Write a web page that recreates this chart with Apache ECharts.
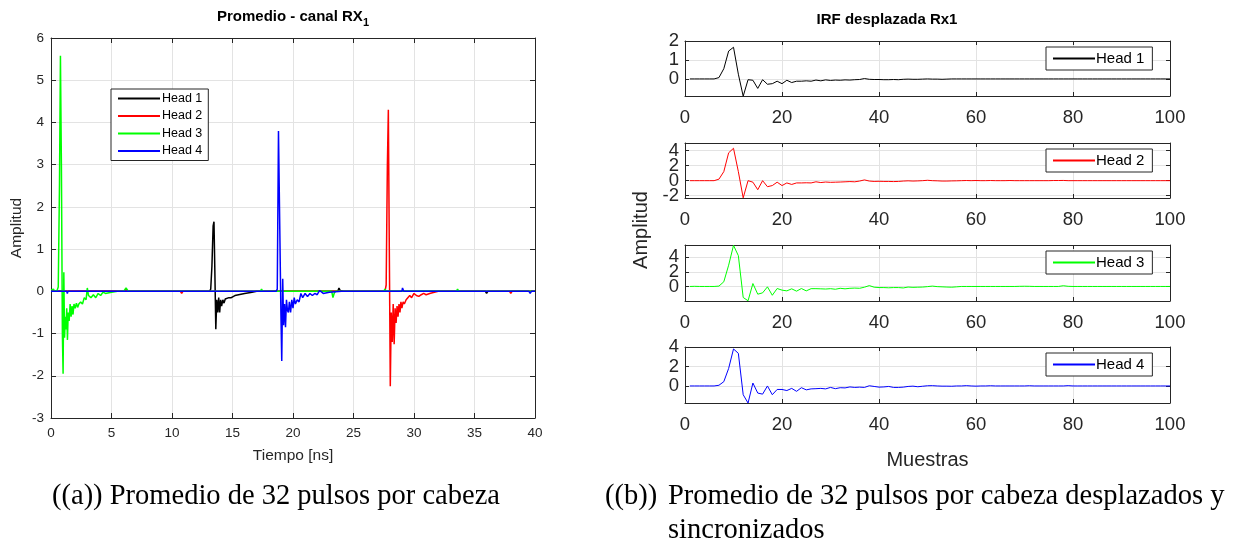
<!DOCTYPE html>
<html>
<head>
<meta charset="utf-8">
<script src="https://cdn.jsdelivr.net/npm/echarts@6/dist/echarts.min.js"></script>
<style>
html, body { margin: 0; padding: 0; background: #fff; }
#main { width: 1243px; height: 545px; }
</style>
</head>
<body>
<div id="main"></div>
<script>
const chart = echarts.init(document.querySelector('#main'))

const HEADS = ['Head 1', 'Head 2', 'Head 3', 'Head 4']
const COLORS = ['#000000', '#ff0000', '#00ff00', '#0000ff']

// (a) promedio por cabeza: [tiempo ns, amplitud]
const PULSE_HEAD1 = [[0,0],[13.1,0],[13.2,0.05],[13.3,0.6],[13.4,1.55],[13.47,1.65],[13.54,0.5],[13.62,-0.9],[13.7,-0.2],[13.78,-0.5],[13.86,-0.15],[13.94,-0.5],[14.02,-0.2],[14.1,-0.35],[14.2,-0.2],[14.3,-0.28],[14.4,-0.18],[14.5,-0.22],[14.7,-0.15],[14.9,-0.15],[15.2,-0.1],[15.5,-0.08],[16,-0.05],[16.5,-0.03],[17,0],[23.7,0],[23.8,0.08],[23.9,0.02],[24,0.05],[24.2,0],[35.9,0],[36,-0.05],[36.1,0],[40,0]]
const PULSE_HEAD2 = [[0,0],[6.1,0],[6.2,0.05],[6.3,0],[8.2,0],[8.3,-0.03],[8.4,0],[10.7,0],[10.8,-0.05],[10.9,0],[27.6,0],[27.7,0.15],[27.8,3.0],[27.88,4.3],[27.96,1.0],[28.04,-2.25],[28.12,-0.5],[28.2,-1.2],[28.28,-0.3],[28.36,-1.25],[28.44,-0.4],[28.52,-0.75],[28.6,-0.35],[28.68,-0.6],[28.76,-0.3],[28.84,-0.5],[28.92,-0.25],[29,-0.4],[29.1,-0.25],[29.2,-0.3],[29.35,-0.2],[29.5,-0.22],[29.65,-0.1],[29.8,-0.15],[30,-0.05],[30.2,-0.1],[30.4,-0.12],[30.6,-0.08],[30.8,-0.05],[31,-0.08],[31.3,-0.05],[31.6,-0.03],[32,0],[37.9,0],[38,-0.05],[38.1,0],[40,0]]
const PULSE_HEAD3 = [[0,0.03],[0.1,0],[0.2,0.05],[0.3,0],[0.5,0.02],[0.6,0.1],[0.7,2.5],[0.78,5.58],[0.86,3.0],[0.94,-1.0],[1.0,-1.95],[1.06,0.45],[1.12,-1.1],[1.18,-0.6],[1.24,-0.9],[1.3,-0.4],[1.36,-1.15],[1.42,-0.5],[1.5,-0.7],[1.58,-0.3],[1.66,-0.6],[1.74,-0.35],[1.82,-0.55],[1.9,-0.3],[2,-0.4],[2.1,-0.28],[2.2,-0.38],[2.3,-0.3],[2.45,-0.25],[2.6,-0.3],[2.75,-0.15],[2.9,-0.2],[3,0.08],[3.1,-0.1],[3.3,-0.15],[3.5,-0.08],[3.7,-0.15],[3.9,-0.05],[4.1,-0.1],[4.3,-0.02],[4.5,-0.05],[5,-0.02],[5.5,0],[6,0],[6.2,0.08],[6.4,0],[8,0],[13,0],[17.3,0],[17.4,0.05],[17.5,0],[20,0],[23.2,0],[23.3,-0.15],[23.4,-0.05],[23.5,0],[27.5,0],[27.6,0.05],[27.7,0],[33.5,0],[33.6,0.05],[33.7,0],[40,0]]
const PULSE_HEAD4 = [[0,0],[1.3,0],[1.35,-0.05],[1.4,0],[18.6,0],[18.7,0.05],[18.8,3.8],[18.9,3.8],[19,-0.5],[19.07,-1.65],[19.15,0.3],[19.22,-0.8],[19.3,-0.3],[19.38,-0.85],[19.46,-0.2],[19.54,-0.45],[19.62,-0.5],[19.7,-0.25],[19.8,-0.5],[19.9,-0.2],[20,-0.4],[20.1,-0.15],[20.2,-0.3],[20.35,-0.2],[20.5,-0.25],[20.65,-0.05],[20.8,-0.15],[21,-0.05],[21.2,-0.12],[21.4,-0.05],[21.6,-0.1],[21.8,-0.05],[22,-0.08],[22.2,0.02],[22.5,-0.05],[23,-0.02],[24,0],[29,0],[29.05,0.08],[29.15,0],[39.5,0],[39.6,-0.05],[39.7,0],[40,0]]

// (b) IRF desplazada, muestras 1..100
const IRF_HEAD1 = [0,0,0,0,0,0,0.07,0.54,1.47,1.67,0.25,-0.91,-0.04,-0.07,-0.5,-0.04,-0.28,-0.25,-0.12,-0.25,-0.07,-0.19,-0.12,-0.12,-0.1,-0.12,-0.06,-0.1,-0.05,-0.08,-0.06,-0.07,-0.05,-0.06,-0.04,-0.03,0.02,-0.02,-0.03,-0.03,-0.04,-0.04,-0.03,-0.04,-0.02,-0.01,-0.02,-0.02,-0.01,0,-0.01,-0.01,-0.02,-0.01,0,0,0,0,0,0,0,0,0,0,0,0,0,0,0,0,0,0,0,0,0,0,0,0,0,0,0,0,0,0,0,0,0,0,0,0,0,0,0,0,0,0,0,0,0,0]
const IRF_HEAD2 = [0,0,0,0,0,0,0.2,1.2,3.7,4.3,1.2,-2.28,0,-0.2,-1.2,0,-0.8,-0.65,-0.2,-0.65,-0.3,-0.5,-0.3,-0.3,-0.28,-0.3,-0.15,-0.25,-0.18,-0.22,-0.2,-0.18,-0.15,-0.12,-0.15,-0.05,0.1,-0.05,-0.1,-0.08,-0.1,-0.1,-0.12,-0.1,-0.05,-0.02,-0.05,-0.03,0,0.05,0,-0.02,-0.05,-0.05,-0.03,-0.02,0,0.02,0,0.02,0,0,0.02,0,0,0,0.02,0,0,0,0,0,0,0,0,0.02,0.02,0.03,0,0,0,0,0,0,0,0,0,0,0,0,0,0,0,0,0,0,0,0,0,0]
const IRF_HEAD3 = [0,0.02,0,0,0,0,0.05,0.64,2.9,5.6,4.2,-1.5,-1.95,0.4,-1.05,-0.87,-0.05,-1.2,-0.28,-0.5,-0.6,-0.32,-0.64,-0.28,-0.6,-0.3,-0.3,-0.32,-0.35,-0.3,-0.38,-0.25,-0.32,-0.25,-0.22,-0.25,-0.1,0.12,-0.1,-0.15,-0.15,-0.18,-0.15,-0.15,-0.2,-0.08,-0.12,-0.1,-0.08,-0.02,0.05,-0.02,-0.05,-0.08,-0.1,-0.05,0,0,0,0,0,0,0,0,0,0,0,0,0.02,0.03,0.02,0,0,0,0,0,0,0.1,0.02,0,0,0,0,0,0,0,0,0,0,0,0,0,0,0,0,0,0,0,0,0]
const IRF_HEAD4 = [0,0,0,0,0,0,0.07,0.44,1.8,3.8,3.35,-0.9,-1.75,0.3,-0.73,-0.84,0,-0.9,-0.36,-0.36,-0.47,-0.25,-0.55,-0.18,-0.4,-0.3,-0.28,-0.25,-0.3,-0.15,-0.28,-0.18,-0.2,-0.1,-0.15,-0.12,-0.15,0.02,-0.05,-0.12,-0.1,-0.05,-0.15,-0.15,-0.12,-0.05,-0.02,-0.08,-0.03,0.02,0.03,0,-0.02,-0.02,-0.03,0,0,0.03,0,-0.02,0,0,0.02,0,0,0,0,0,0,0,0.02,0,0,0,0,0,0,0,0.03,0,0,0,0,0,0,0,0,0,0,0,0,0,0,0,0,0,0,0,0,0]

const PULSES = [PULSE_HEAD1, PULSE_HEAD2, PULSE_HEAD3, PULSE_HEAD4]
const IRFS = [IRF_HEAD1, IRF_HEAD2, IRF_HEAD3, IRF_HEAD4]

const TIME_RANGE = [0, 40]
const AMP_RANGE = [-3, 6]
const SAMPLE_RANGE = [0, 100]
const IRF_YLIMS = [[-0.9, 2], [-2.3, 5], [-1.98, 5.65], [-1.75, 4]]
const IRF_YTICKS = [[0, 1, 2], [-2, 0, 2, 4], [0, 2, 4], [0, 2, 4]]

const FONT = 'Liberation Sans'
const INK = '#262626'
const GRID_GRAY = '#e3e3e3'

const RIGHT_TOPS = [41, 143, 245, 347]
const RIGHT_HEIGHTS = [55, 55, 56, 56]

function axisBase (gridIndex, extra) {
  return Object.assign({
    gridIndex,
    type: 'value',
    axisLine: { show: true, onZero: false, lineStyle: { color: INK, width: 1 } },
    axisTick: { show: true, inside: true, length: 5, lineStyle: { color: INK } },
    splitLine: { show: true, lineStyle: { color: GRID_GRAY, width: 1 } },
    axisLabel: { color: INK, fontFamily: FONT }
  }, extra)
}

function mirror (axis, position) {
  return Object.assign({}, axis, {
    position,
    name: '',
    axisLabel: { show: false },
    splitLine: { show: false },
    axisTick: Object.assign({}, axis.axisTick)
  })
}

// tick labels of the small panels are too close together for one axis:
// split them over two overlaid axes so none gets hidden
function labelAxis (gridIndex, lim, values) {
  return {
    gridIndex, type: 'value', position: 'left', offset: 0,
    min: lim[0], max: lim[1],
    axisLine: { show: false }, axisTick: { show: false }, splitLine: { show: false },
    axisLabel: { color: INK, fontFamily: FONT, fontSize: 18.5, margin: 6, customValues: values }
  }
}

let grids = [{ left: 51, top: 38, width: 484, height: 380 }]
let xAxes = []
let yAxes = []
let series = []

let xLeft = axisBase(0, {
  min: TIME_RANGE[0], max: TIME_RANGE[1], interval: 5,
  axisLabel: { color: INK, fontFamily: FONT, fontSize: 13.5, margin: 8 },
  name: 'Tiempo [ns]', nameLocation: 'middle', nameGap: 30,
  nameTextStyle: { color: INK, fontFamily: FONT, fontSize: 15.5 }
})
let yLeft = axisBase(0, {
  min: AMP_RANGE[0], max: AMP_RANGE[1], interval: 1,
  axisLabel: { color: INK, fontFamily: FONT, fontSize: 13.5, margin: 7 }
})
xAxes.push(xLeft, mirror(xLeft, 'top'))
yAxes.push(yLeft, mirror(yLeft, 'right'))

PULSES.forEach((data, i) => {
  series.push({
    name: HEADS[i], type: 'line', xAxisIndex: 0, yAxisIndex: 0,
    data, symbol: 'none', color: COLORS[i],
    lineStyle: { width: 1.5, color: COLORS[i] }
  })
})

IRFS.forEach((values, g) => {
  let gi = g + 1
  let ticks = IRF_YTICKS[g]
  grids.push({ left: 685, top: RIGHT_TOPS[g], width: 485, height: RIGHT_HEIGHTS[g] })
  let x = axisBase(gi, {
    min: SAMPLE_RANGE[0], max: SAMPLE_RANGE[1], interval: 20,
    axisTick: { show: true, inside: true, length: 4, lineStyle: { color: INK } },
    axisLabel: { color: INK, fontFamily: FONT, fontSize: 18.5, margin: 12 }
  })
  if (g === 3) {
    Object.assign(x, {
      name: 'Muestras', nameLocation: 'middle', nameGap: 47,
      nameTextStyle: { color: INK, fontFamily: FONT, fontSize: 20 }
    })
  }
  let y = axisBase(gi, {
    min: IRF_YLIMS[g][0], max: IRF_YLIMS[g][1],
    axisTick: { show: true, inside: true, length: 4, customValues: ticks, lineStyle: { color: INK } },
    axisLabel: { show: false }
  })
  xAxes.push(x, mirror(x, 'top'))
  let yIndex = yAxes.length
  yAxes.push(y, mirror(y, 'right'))
  yAxes.push(labelAxis(gi, IRF_YLIMS[g], ticks.filter((v, k) => k % 2 === 0)))
  yAxes.push(labelAxis(gi, IRF_YLIMS[g], ticks.filter((v, k) => k % 2 === 1)))
  series.push({
    name: HEADS[g], type: 'line', xAxisIndex: 2 * gi, yAxisIndex: yIndex,
    data: values.map((v, i) => [i + 1, v]), symbol: 'none', color: COLORS[g],
    lineStyle: { width: 1, color: COLORS[g] }
  })
})

let legends = [{
  data: HEADS, orient: 'vertical', left: 111, top: 89,
  padding: [3, 6, 3, 6], itemGap: 4.5, itemWidth: 42, itemHeight: 14,
  borderColor: INK, borderWidth: 1, backgroundColor: '#fff', borderRadius: 0,
  selectedMode: false, itemStyle: { opacity: 0 },
  textStyle: { fontFamily: FONT, fontSize: 12.5, color: '#000', padding: [0, 0, 0, -3] }
}]
HEADS.forEach((h, g) => {
  legends.push({
    data: [h], left: 1046, top: RIGHT_TOPS[g] + 6,
    padding: [4, 8, 4, 6], itemWidth: 42, itemHeight: 14,
    borderColor: INK, borderWidth: 1, backgroundColor: '#fff', borderRadius: 0,
    selectedMode: false, itemStyle: { opacity: 0 },
    textStyle: { fontFamily: FONT, fontSize: 15, color: '#000', padding: [0, 0, 0, -4] }
  })
})

const CAPTION_FONT = '28.5px "Liberation Serif"'

let chartOption = {
  animation: false,
  backgroundColor: '#fff',
  grid: grids,
  xAxis: xAxes,
  yAxis: yAxes,
  legend: legends,
  series,
  graphic: [
    {
      type: 'text', x: 293, y: 17,
      style: {
        text: '{m|Promedio - canal RX}{s|1}',
        align: 'center', verticalAlign: 'middle',
        rich: {
          m: { font: 'bold 15px "Liberation Sans"', fill: '#000' },
          s: { font: 'bold 11px "Liberation Sans"', fill: '#000', verticalAlign: 'bottom', padding: [11, 0, 0, 0] }
        }
      }
    },
    {
      type: 'text', x: 887, y: 20,
      style: { text: 'IRF desplazada Rx1', font: 'bold 15px "Liberation Sans"', fill: '#000', align: 'center', verticalAlign: 'middle' }
    },
    {
      type: 'text', x: 17, y: 228, rotation: Math.PI / 2,
      style: { text: 'Amplitud', font: '15.5px "Liberation Sans"', fill: INK, align: 'center', verticalAlign: 'middle' }
    },
    {
      type: 'text', x: 641, y: 230, rotation: Math.PI / 2,
      style: { text: 'Amplitud', font: '20px "Liberation Sans"', fill: INK, align: 'center', verticalAlign: 'middle' }
    },
    {
      type: 'text', x: 52, y: 497,
      style: { text: '((a)) Promedio de 32 pulsos por cabeza', font: CAPTION_FONT, fill: '#000', align: 'left', verticalAlign: 'middle' }
    },
    {
      type: 'text', x: 605, y: 497,
      style: { text: '((b))', font: CAPTION_FONT, fill: '#000', align: 'left', verticalAlign: 'middle' }
    },
    {
      type: 'text', x: 668, y: 497,
      style: { text: 'Promedio de 32 pulsos por cabeza desplazados y', font: CAPTION_FONT, fill: '#000', align: 'left', verticalAlign: 'middle' }
    },
    {
      type: 'text', x: 668, y: 531,
      style: { text: 'sincronizados', font: CAPTION_FONT, fill: '#000', align: 'left', verticalAlign: 'middle' }
    }
  ]
}

chart.setOption(chartOption)
</script>
</body>
</html>
